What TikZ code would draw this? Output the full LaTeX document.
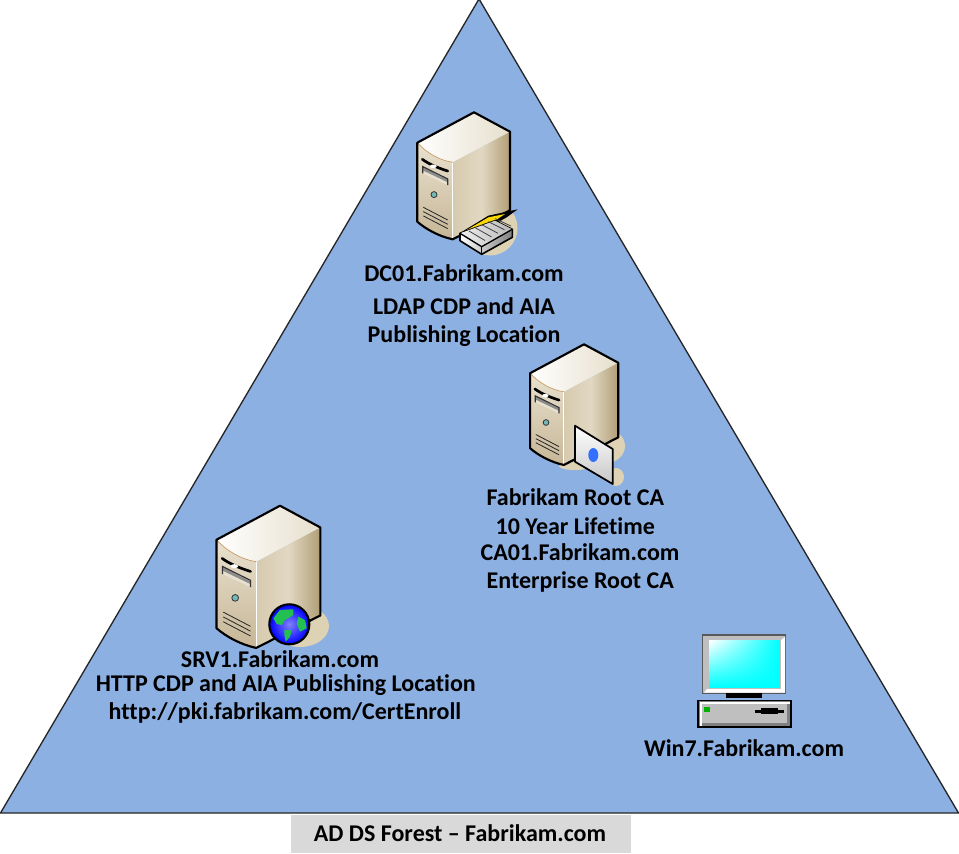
\documentclass[tikz,border=0pt]{standalone}
\usepackage{fontspec}
\usetikzlibrary{shadings}
\setmainfont[Ligatures=NoCommon]{Carlito}
\definecolor{forest}{HTML}{8DB0E3}
\definecolor{shadowc}{HTML}{DDD2B3}
\definecolor{labelgrey}{HTML}{D9D9D9}
\definecolor{sideL}{HTML}{D6CAAE}
\definecolor{sideM}{HTML}{E2D8C2}
\definecolor{sideR}{HTML}{B09E76}
\definecolor{frontT}{HTML}{E9E1CF}
\definecolor{frontB}{HTML}{C6B696}
\definecolor{topR}{HTML}{E6DFCC}
\definecolor{land}{HTML}{22C050}
\tikzset{
  x=0.75pt,y=-0.75pt,
  lbl/.style={font=\fontsize{18}{20}\selectfont\bfseries,inner sep=0pt,text=black,anchor=base},
  edge/.style={draw=black,line width=1.6pt,line join=round},
  shad/.style={fill=shadowc,draw=none},
}
\newcommand{\serverbody}{%
  % side
  \path[left color=sideL,right color=sideR,middle color=sideM]
    (-21.3,50) -- (36,19.4) -- (36,98) -- (-21.3,127) -- cycle;
  % front
  \path[top color=frontT,bottom color=frontB]
    (-56.7,30.4) .. controls (-48,40) and (-35,48) .. (-21.3,50) -- (-21.3,127)
    .. controls (-35,124) and (-48,117) .. (-56.7,109.4) -- cycle;
  % top
  \path[left color=white,right color=topR]
    (0,0) -- (36,19.4) -- (-21.3,50) .. controls (-35,48) and (-48,40) .. (-56.7,30.4) -- cycle;
  \draw[white,line width=0.8pt] (-21.3,50) -- (-21.3,127);
  \draw[brown!70!shadowc,line width=0.5pt] (-56.7,30.4) .. controls (-48,40) and (-35,48) .. (-21.3,50);
  % drive slots
  \path[fill=frontT] (-51.3,54.3) -- (-26.3,66.7) -- (-26.3,72.7) -- (-51.3,61) -- cycle;
  \path[fill=black!45] (-51.3,55) -- (-26.3,67.5) -- (-26.3,70) -- (-51.3,58) -- cycle;
  \draw[black!80,line width=0.9pt] (-51.3,61) -- (-51.3,54.3) -- (-26.3,66.7) -- (-26.3,72.7);
  \draw[black,line width=2pt,line cap=round] (-51.7,47) .. controls (-45,52) and (-35,56) .. (-26.3,58.7);
  \fill[white] (-40.7,54) ellipse (3.4 and 1.8);
  % led
  \fill[teal!55!white,draw=black!80,line width=0.6pt] (-40,82.3) circle (3);
  % vents
  \foreach \d in {0,4.3,8.6}{\draw[black!85,line width=0.6pt] (-50.7,95+\d) -- (-26.3,107.7+\d);}
  % outline
  \draw[edge] (0,0) -- (36,19.4) -- (36,98) -- (-21.3,127)
    .. controls (-35,124) and (-48,117) .. (-56.7,109.4) -- (-56.7,30.4) -- cycle;
}
\begin{document}
\begin{tikzpicture}
\useasboundingbox (0,0) rectangle (959,853);
\fill[white] (0,0) rectangle (959,853);
\path[fill=forest,draw=black!85,line width=1pt,line join=round] (479,-1) -- (958.5,813) -- (0.5,813) -- cycle;
\fill[labelgrey] (291,815) rectangle (631,853);

% DC01 shadow + server + printer
\path[shad] (490,228) ellipse (27.5 and 27.5);
\begin{scope}[shift={(474,112.3)}]\serverbody\end{scope}
\path[fill=black] (460,233) -- (488.3,215.7) -- (517.7,209.3) -- (506.7,217.3) -- (495,224) -- cycle;
\path[fill=yellow!75!orange] (462.5,232.5) -- (488.5,217.3) -- (505,214) -- (495,220.7) -- (470,233) -- cycle;
\path[left color=white,right color=black!50,draw=black,line width=1.2pt,line join=round]
  (460,233.3) -- (495,220.7) -- (512.3,229.3) -- (512.3,237.3) -- (481.7,254.3) -- (460,240.7) -- cycle;
\path[left color=black!6,right color=black!28] (460,233.3) -- (495,220.7) -- (512.3,229.3) -- (481.7,246.7) -- cycle;
\draw[black,line width=1pt,line join=round] (460,233.3) -- (481.7,246.7) -- (512.3,229.3);
\draw[black,line width=1pt] (481.7,246.7) -- (481.7,254.3);
\foreach \d in {0,5,10,15,20}{\draw[black!75,line width=0.6pt] (469+\d*1.3,231-\d*0.62) -- (485+\d*1.3,240.5-\d*0.72);}

% CA01
\path[shad] (606,446) ellipse (19 and 17);
\path[shad] (616,477) ellipse (8 and 9);
\path[shad] (575,466) ellipse (16 and 4);
\begin{scope}[shift={(584,344.3)},scale=0.95]\serverbody\end{scope}
\path[top color=white,bottom color=black!22,draw=black,line width=1.3pt,line join=round]
  (575,425.7) -- (612.7,449) -- (612.7,484) -- (575,461.7) -- cycle;
\fill[blue!70!cyan!80!white] (593.3,455) ellipse (5 and 7);

% SRV1
\path[shad] (300,626) ellipse (29 and 21);
\begin{scope}[shift={(280,505.7)},scale=1.12]\serverbody\end{scope}
\path[inner color=blue!50!white,outer color=blue,draw=black,line width=1.6pt] (289.3,624.3) circle (20);
\begin{scope}
\clip (289.3,624.3) circle (19);
\fill[land] (273.3,618.3) -- (280,610) -- (293.3,609.3) -- (293.3,615) -- (288.3,618.3) -- (285,620) -- (281.7,625) -- (276.7,624) -- cycle;
\fill[land] (284.3,630) -- (291.7,630) -- (290,636.7) -- (285.7,641.7) -- (284.3,635) -- cycle;
\fill[land] (298.3,616.7) -- (305,620) -- (306.7,628.3) -- (300,631.7) -- (296.7,623.3) -- cycle;
\end{scope}

% Win7
\path[fill=black!25,draw=black!65,line width=1pt] (702.3,635) rectangle (785.7,693.3);
\fill[white] (707,689) -- (781,689) -- (781,640) -- (785,637) -- (785,692.5) -- (704,692.5) -- cycle;
\path[upper left=white,upper right=cyan,lower left=cyan,lower right=cyan,shade] (709,640.7) rectangle (779.3,687);
\fill[black] (726.3,693.3) rectangle (762,698.3);
\path[fill=black!50,draw=black,line width=1.3pt] (698,700.5) rectangle (791,727.3);
\fill[white] (699.5,702) rectangle (789.5,725.5);
\fill[black!50] (701.5,704) rectangle (789.5,725.5);
\fill[black!25] (701.5,704) rectangle (787.3,723);
\fill[green!70!black] (704,706.7) rectangle (710,711.7);
\fill[black] (761,708.3) rectangle (778,714);
\fill[black] (755,710) rectangle (784,712.5);

% Labels
\node[lbl] (dcname) at (464,281) {DC01.Fabrikam.com};
\node[lbl] (ldap) at (464,314.5) {LDAP CDP and AIA};
\node[lbl] (pub) at (464,342.7) {Publishing Location};
\node[lbl] (root) at (575.3,505) {Fabrikam Root CA};
\node[lbl] (life) at (575.3,534) {10 Year Lifetime};
\node[lbl] (caname) at (580,560.3) {CA01.Fabrikam.com};
\node[lbl] (ent) at (580.3,588) {Enterprise Root CA};
\node[lbl] (srvname) at (280,667.5) {SRV1.Fabrikam.com};
\node[lbl] (http) at (285.8,691) {HTTP CDP and AIA Publishing Location};
\node[lbl] (url) at (285,719) {http://pki.fabrikam.com/CertEnroll};
\node[lbl] (win) at (744,756) {Win7.Fabrikam.com};
\node[lbl] (forestlbl) at (460,841.7) {AD DS Forest – Fabrikam.com};
\end{tikzpicture}
\end{document}
